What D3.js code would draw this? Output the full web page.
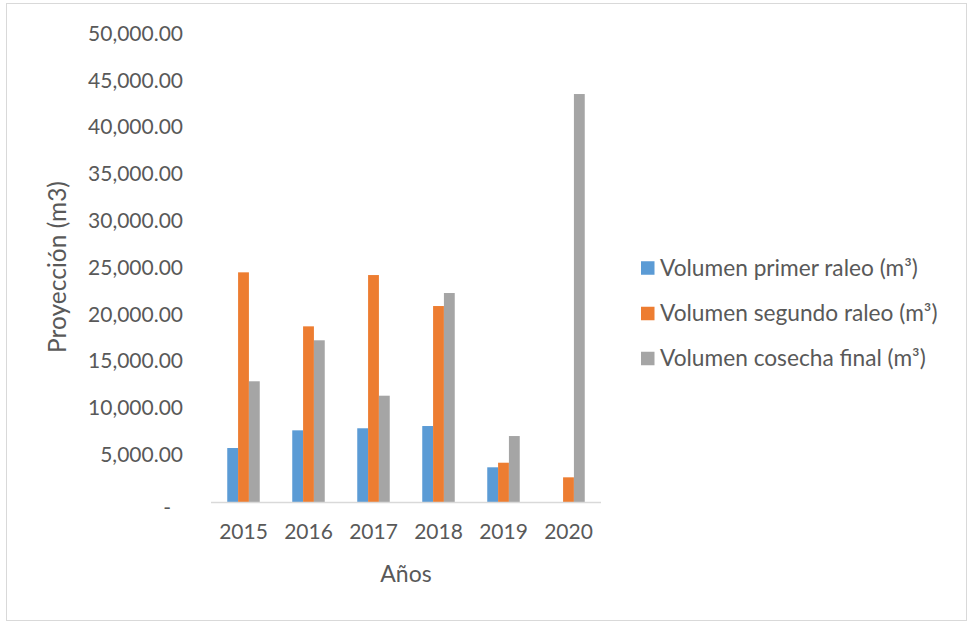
<!DOCTYPE html>
<html>
<head>
<meta charset="utf-8">
<script src="https://cdn.jsdelivr.net/npm/d3@7/dist/d3.min.js"></script>
<style>
  html, body { margin: 0; padding: 0; background: #fff; }
  svg { display: block; font-family: Lato, "Open Sans", sans-serif; }
</style>
</head>
<body>
<svg id="chart" width="969" height="622"></svg>
<script>
// Años proyectados
const years = ["2015", "2016", "2017", "2018", "2019", "2020"];

// Volúmenes por año (m³); null = sin raleo ese año
const primerRaleo  = [5820, 7710, 7930, 8170, 3760, null];
const segundoRaleo = [24590, 18820, 24300, 20990, 4250, 2690];
const cosechaFinal = [12950, 17330, 11410, 22380, 7100, 43640];

const seriesNames = [
  "Volumen primer raleo (m³)",
  "Volumen segundo raleo (m³)",
  "Volumen cosecha final (m³)"
];
const seriesColors = ["#5B9BD5", "#ED7D31", "#A5A5A5"];

const yTicks = [0, 5000, 10000, 15000, 20000, 25000, 30000, 35000, 40000, 45000, 50000];

const yTitle = "Proyección (m3)";
const xTitle = "Años";

const textColor = "#595959";
const svg = d3.select("#chart");

// Marco exterior del gráfico
svg.append("rect")
  .attr("x", 6.5).attr("y", 3.5)
  .attr("width", 960).attr("height", 617)
  .attr("fill", "#fff")
  .attr("stroke", "#D9D9D9")
  .attr("stroke-width", 1);

const plot = { left: 211, right: 601, top: 34.5, bottom: 502.5 };

const x0 = d3.scaleBand()
  .domain(years)
  .range([plot.left, plot.right])
  .paddingInner(0.5)
  .paddingOuter(0.25);

const x1 = d3.scaleBand()
  .domain(d3.range(seriesNames.length))
  .range([0, x0.bandwidth()]);

const y = d3.scaleLinear()
  .domain([0, 50000])
  .range([plot.bottom, plot.top]);

const allSeries = [primerRaleo, segundoRaleo, cosechaFinal];

// Barras agrupadas
allSeries.forEach((vals, si) => {
  svg.append("g")
    .selectAll("rect")
    .data(years.map((yr, i) => ({ yr, v: vals[i] })).filter(d => d.v != null))
    .join("rect")
    .attr("x", d => x0(d.yr) + x1(si))
    .attr("width", x1.bandwidth())
    .attr("y", d => y(d.v))
    .attr("height", d => y(0) - y(d.v))
    .attr("fill", seriesColors[si]);
});

// Eje X (línea base y años)
const fmt = d3.format(",.2f");
const xAxis = svg.append("g")
  .attr("transform", `translate(0,${plot.bottom})`)
  .call(d3.axisBottom(x0).tickSize(0).tickPadding(22));
xAxis.select(".domain")
  .attr("stroke", "#D9D9D9").attr("stroke-width", 1.5)
  .attr("d", `M${plot.left},0H${plot.right}`);
xAxis.selectAll("text")
  .attr("fill", textColor)
  .attr("font-size", 21)
  .attr("font-family", "Lato, sans-serif")
  .attr("dy", "0.71em");

// Eje Y (solo etiquetas)
const yAxis = svg.append("g")
  .attr("transform", `translate(183,0)`)
  .call(d3.axisLeft(y).tickValues(yTicks).tickSize(0).tickPadding(0)
    .tickFormat(d => d === 0 ? "-" : fmt(d)));
yAxis.select(".domain").remove();
yAxis.selectAll("text")
  .attr("fill", textColor)
  .attr("font-size", 21)
  .attr("font-family", "Lato, sans-serif")
  .attr("dy", d => d === 0 ? "0.55em" : "0.28em")
  .attr("x", d => d === 0 ? -12 : 0);

// Títulos de ejes
svg.append("text")
  .attr("transform", "translate(66,267) rotate(-90)")
  .attr("text-anchor", "middle")
  .attr("fill", textColor)
  .attr("font-size", 24.5)
  .text(yTitle);

svg.append("text")
  .attr("x", 406).attr("y", 582)
  .attr("text-anchor", "middle")
  .attr("fill", textColor)
  .attr("font-size", 23)
  .text(xTitle);

// Leyenda
const legend = svg.append("g");
const legendRows = [268, 313.5, 358.5];
seriesNames.forEach((name, i) => {
  const g = legend.append("g").attr("transform", `translate(641,${legendRows[i]})`);
  g.append("rect")
    .attr("x", 0).attr("y", -6.75)
    .attr("width", 13.5).attr("height", 13.5)
    .attr("fill", seriesColors[i]);
  g.append("text")
    .attr("x", 19).attr("y", 0)
    .attr("dy", "0.35em")
    .attr("fill", textColor)
    .attr("font-size", 22.7)
    .text(name);
});
</script>
</body>
</html>
